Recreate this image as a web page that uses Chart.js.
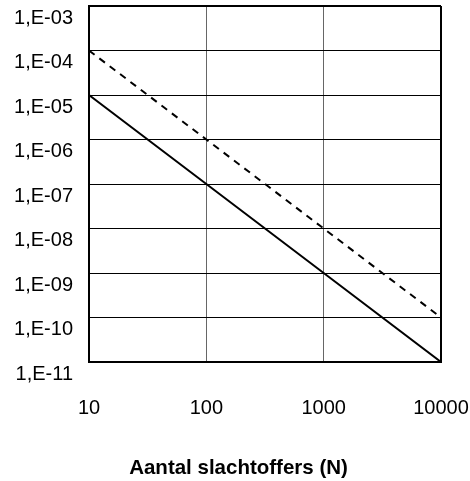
<!DOCTYPE html>
<html>
<head>
<meta charset="utf-8">
<title>Aantal slachtoffers (N)</title>
<script src="https://cdn.jsdelivr.net/npm/chart.js@4/dist/chart.umd.min.js"></script>
<style>
    body { margin: 0; background: #ffffff; }
    #chart { display: block; }
</style>
</head>
<body>
<canvas id="chart" width="470" height="481"></canvas>
<script>
// Data (log-log, N vs. frequentie)
const slachtoffers = [10, 100, 1000, 10000];
const normLijn = [1e-5, 1e-7, 1e-9, 1e-11];        // doorgetrokken lijn
const normLijnGestreept = [1e-4, 1e-6, 1e-8, 1e-10]; // gestreepte lijn

const xTickValues = [10, 100, 1000, 10000];
const xTickLabels = ['10', '100', '1000', '10000'];
const yTickValues = [1e-3, 1e-4, 1e-5, 1e-6, 1e-7, 1e-8, 1e-9, 1e-10, 1e-11];
const yTickLabels = ['1,E-03', '1,E-04', '1,E-05', '1,E-06', '1,E-07', '1,E-08', '1,E-09', '1,E-10', '1,E-11'];

const FONT = "'Liberation Sans', Arial, sans-serif";

function toPoints(xs, ys) {
    return xs.map((x, i) => ({ x: x, y: ys[i] }));
}

const ctx = document.getElementById('chart').getContext('2d');

new Chart(ctx, {
    type: 'line',
    data: {
        datasets: [
            {
                label: 'gestreept',
                data: toPoints(slachtoffers, normLijnGestreept),
                borderColor: '#000000',
                borderWidth: 2,
                borderDash: [7, 6],
                pointRadius: 0,
                fill: false
            },
            {
                label: 'doorgetrokken',
                data: toPoints(slachtoffers, normLijn),
                borderColor: '#000000',
                borderWidth: 2,
                pointRadius: 0,
                fill: false
            }
        ]
    },
    options: {
        responsive: false,
        animation: false,
        layout: {
            padding: { top: 6, left: 7, right: 0, bottom: 0 }
        },
        plugins: {
            legend: { display: false },
            tooltip: { enabled: false },
            title: {
                display: true,
                position: 'bottom',
                text: 'Aantal slachtoffers (N)',
                color: '#000000',
                font: { family: FONT, size: 20.5, weight: 'bold' },
                padding: { top: 10, bottom: 0 }
            }
        },
        scales: {
            x: {
                type: 'logarithmic',
                min: 10,
                max: 10000,
                afterBuildTicks: (scale) => {
                    scale.ticks = xTickValues.map(v => ({ value: v }));
                },
                afterFit: (scale) => {
                    scale.height = 84.4;
                    scale.paddingLeft = 0;
                    scale.paddingRight = 29;
                },
                ticks: {
                    color: '#000000',
                    font: { family: FONT, size: 20 },
                    padding: 34,
                    maxRotation: 0,
                    autoSkip: false,
                    callback: (value, index) => xTickLabels[index]
                },
                grid: {
                    drawTicks: false,
                    color: (c) => (c.tick && c.tick.value === 10000) ? '#000000' : '#666666',
                    lineWidth: (c) => (c.tick && c.tick.value === 10000) ? 2 : 1
                },
                border: { display: true, color: '#000000', width: 2 }
            },
            y: {
                type: 'logarithmic',
                min: 1e-11,
                max: 1e-3,
                afterBuildTicks: (scale) => {
                    scale.ticks = yTickValues.map(v => ({ value: v }));
                },
                afterFit: (scale) => {
                    scale.width = 82;
                    scale.paddingTop = 0;
                    scale.paddingBottom = 0;
                },
                ticks: {
                    color: '#000000',
                    font: { family: FONT, size: 20 },
                    padding: 16,
                    labelOffset: 12,
                    autoSkip: false,
                    callback: (value, index) => yTickLabels[index]
                },
                grid: {
                    drawTicks: false,
                    color: '#000000',
                    lineWidth: (c) => (c.tick && c.tick.value === 1e-3) ? 2 : 1
                },
                border: { display: true, color: '#000000', width: 2 }
            }
        }
    }
});
</script>
</body>
</html>
